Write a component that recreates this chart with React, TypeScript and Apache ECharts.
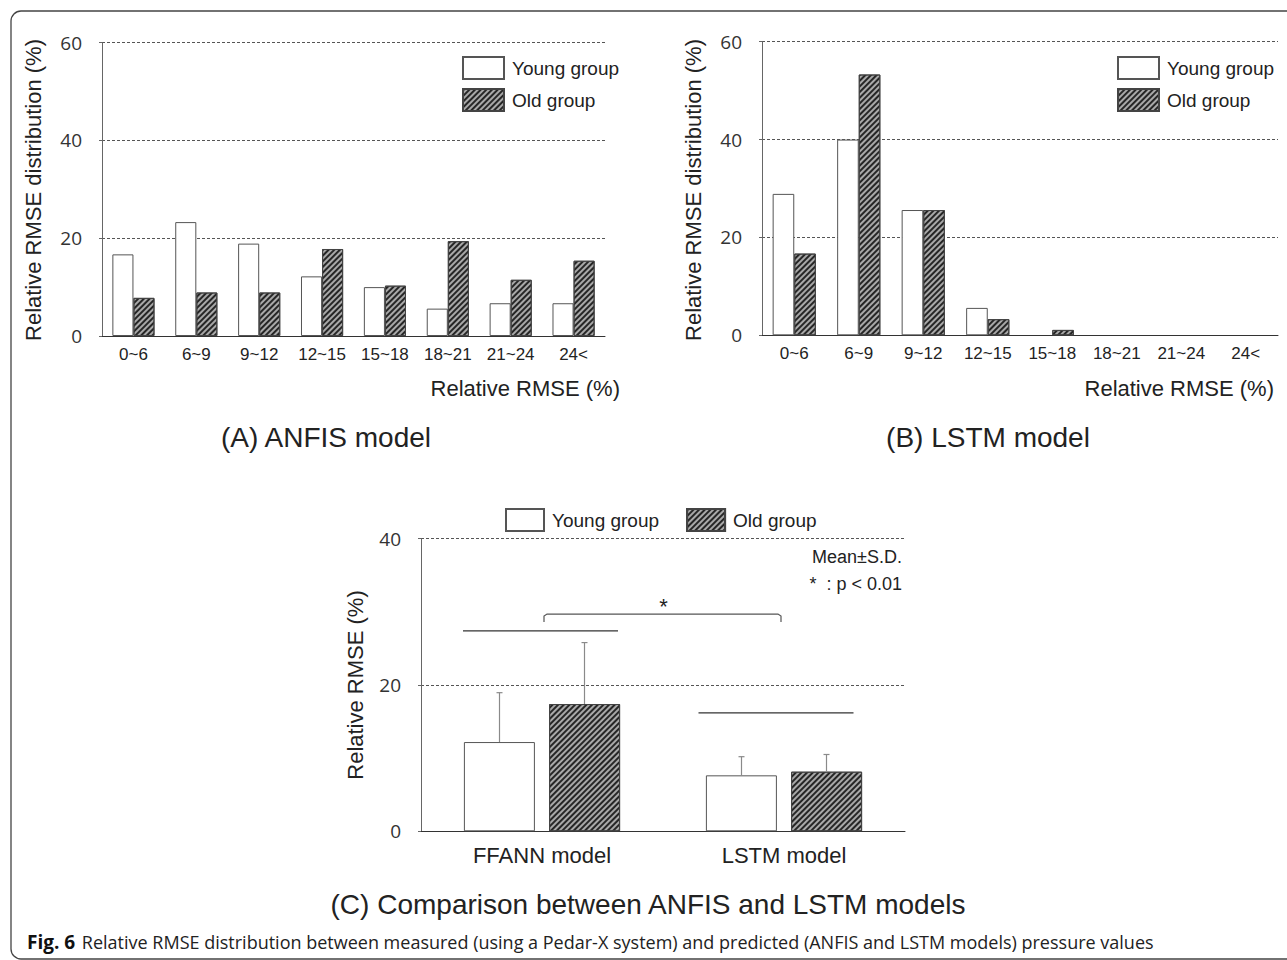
import React, { useEffect, useRef } from "react";
import * as echarts from "echarts";

const categories = ["0~6", "6~9", "9~12", "12~15", "15~18", "18~21", "21~24", "24<"];
const anfisYoung = [16.7, 23.3, 18.9, 12.2, 10.0, 5.6, 6.7, 6.7];
const anfisOld = [7.8, 8.9, 8.9, 17.8, 10.3, 19.4, 11.5, 15.4];
const lstmYoung = [28.9, 40.0, 25.6, 5.6, 0, 0, 0, 0];
const lstmOld = [16.7, 53.3, 25.6, 3.3, 1.1, 0, 0, 0];

const distTicks = [0, 20, 40, 60];
const cmpTicks = [0, 20, 40];

const cmpGroups = ["FFANN model", "LSTM model"];
const cmpYoungMean = [12.2, 7.65];
const cmpYoungSD = [6.75, 2.55];
const cmpOldMean = [17.4, 8.15];
const cmpOldSD = [8.4, 2.35];
// group-wise significance bars (value level) and the between-model bracket
const groupLineLevel = [27.4, 16.2];
const bracketLevel = 29.7;

const seriesNames = ["Young group", "Old group"];

const FONT = "Liberation Sans, Arial, sans-serif";
const TICKFONT = "Open Sans, sans-serif";

const hatch = {
  symbol: "rect",
  symbolSize: 1,
  color: "#262626",
  dashArrayX: [1, 0],
  dashArrayY: [1.5, 1.5],
  rotation: -Math.PI / 4,
};

function yAxisFor(gridIndex: number, ticks: number[], labelMargin: number) {
  return {
    type: "value",
    gridIndex,
    min: ticks[0],
    max: ticks[ticks.length - 1],
    interval: ticks[1] - ticks[0],
    axisLine: { show: true, lineStyle: { color: "#666", width: 1 } },
    axisTick: { show: true, length: 3, lineStyle: { color: "#666" } },
    axisLabel: { fontFamily: TICKFONT, fontSize: 19, color: "#333", margin: labelMargin },
    splitLine: { show: true, lineStyle: { type: [3, 2], color: "#555", width: 1 } },
  };
}

function xAxisFor(gridIndex: number, data: string[], fontSize: number, margin: number) {
  return {
    type: "category",
    gridIndex,
    data,
    axisLine: { show: true, lineStyle: { color: "#333", width: 1 } },
    axisTick: { show: false },
    axisLabel: { fontFamily: FONT, fontSize, color: "#222", margin, interval: 0 },
  };
}

function barSeries(name: string, data: number[], idx: number, old: boolean, extra: any = {}) {
  return {
    type: "bar",
    name,
    data: data.map((v) => (v === 0 ? { value: v, itemStyle: { opacity: 0 } } : v)),
    xAxisIndex: idx,
    yAxisIndex: idx,
    itemStyle: old
      ? { color: "#a8a8a8", borderColor: "#444", borderWidth: 1, decal: hatch }
      : { color: "#ffffff", borderColor: "#555", borderWidth: 1 },
    emphasis: { disabled: true },
    z: 2,
    ...extra,
  };
}

const legendBase = {
  data: seriesNames.map((n) => ({ name: n, icon: "rect" })),
  padding: 0,
  selectedMode: false,
  textStyle: { fontFamily: FONT, fontSize: 19, color: "#222", padding: [0, 0, 0, 3] },
};

export default function App() {
  const ref = useRef<HTMLDivElement>(null);
  useEffect(() => {
    if (!ref.current) return;
    const chart = echarts.init(ref.current, null, { renderer: "svg" });

    const errData: number[][] = [];
    cmpGroups.forEach((_, i) => {
      errData.push([i, cmpYoungMean[i], cmpYoungSD[i], -1]);
      errData.push([i, cmpOldMean[i], cmpOldSD[i], 1]);
    });
    const half = 42.5;

    const option: any = {
      animation: false,
      backgroundColor: "#ffffff",
      grid: [
        { left: 102, top: 42.7, width: 503, height: 293.3 },
        { left: 762, top: 41.7, width: 516, height: 293.6 },
        { left: 421, top: 538.7, width: 484, height: 292.6 },
      ],
      xAxis: [
        xAxisFor(0, categories, 17, 10),
        xAxisFor(1, categories, 17, 10),
        xAxisFor(2, cmpGroups, 22, 13),
      ],
      yAxis: [yAxisFor(0, distTicks, 20), yAxisFor(1, distTicks, 20), yAxisFor(2, cmpTicks, 20)],
      legend: [
        { ...legendBase, orient: "vertical", left: 462, top: 56, itemWidth: 41, itemHeight: 22, itemGap: 8 },
        { ...legendBase, orient: "vertical", left: 1117, top: 56, itemWidth: 41, itemHeight: 22, itemGap: 8 },
        { ...legendBase, orient: "horizontal", left: 505, top: 508, itemWidth: 38, itemHeight: 22, itemGap: 27 },
      ],
      series: [
        barSeries(seriesNames[0], anfisYoung, 0, false, { barGap: "0%", barCategoryGap: "33%" }),
        barSeries(seriesNames[1], anfisOld, 0, true, { barGap: "0%", barCategoryGap: "33%" }),
        barSeries(seriesNames[0], lstmYoung, 1, false, { barGap: "0%", barCategoryGap: "33%" }),
        barSeries(seriesNames[1], lstmOld, 1, true, { barGap: "0%", barCategoryGap: "33%" }),
        barSeries(seriesNames[0], cmpYoungMean, 2, false, { barGap: "20%", barWidth: 71 }),
        barSeries(seriesNames[1], cmpOldMean, 2, true, { barGap: "20%", barWidth: 71 }),
        {
          type: "custom",
          name: "err",
          xAxisIndex: 2,
          yAxisIndex: 2,
          z: 3,
          data: errData,
          encode: { x: 0, y: 1 },
          renderItem: (params: any, api: any) => {
            const c = api.value(0);
            const m = api.value(1);
            const sd = api.value(2);
            const side = api.value(3);
            const b = api.coord([c, m]);
            const t = api.coord([c, m + sd]);
            const x = b[0] + side * half;
            const st = { stroke: "#8a8a8a", lineWidth: 1.2 };
            return {
              type: "group",
              children: [
                { type: "line", shape: { x1: x, y1: b[1], x2: x, y2: t[1] }, style: st },
                { type: "line", shape: { x1: x - 3, y1: t[1], x2: x + 3, y2: t[1] }, style: st },
              ],
            };
          },
        },
        {
          type: "custom",
          name: "sig",
          xAxisIndex: 2,
          yAxisIndex: 2,
          z: 3,
          data: groupLineLevel.map((v, i) => [i, v]),
          encode: { x: 0, y: 1 },
          renderItem: (params: any, api: any) => {
            const c = api.value(0);
            const p = api.coord([c, api.value(1)]);
            const shift = c === 0 ? -1.5 : -8;
            return {
              type: "line",
              shape: { x1: p[0] + shift - 77.5, y1: p[1], x2: p[0] + shift + 77.5, y2: p[1] },
              style: { stroke: "#333", lineWidth: 1.3 },
            };
          },
        },
        {
          type: "custom",
          name: "bracket",
          xAxisIndex: 2,
          yAxisIndex: 2,
          z: 3,
          data: [[0, 1, bracketLevel]],
          encode: { x: 0, y: 2 },
          renderItem: (params: any, api: any) => {
            const a = api.coord([api.value(0), api.value(2)]);
            const b = api.coord([api.value(1), api.value(2)]);
            const x1 = a[0] + 2;
            const x2 = b[0] - 3;
            const y = a[1];
            return {
              type: "group",
              children: [
                {
                  type: "polyline",
                  shape: { points: [[x1, y + 8], [x1, y + 2], [x1 + 3, y], [x2 - 3, y], [x2, y + 2], [x2, y + 8]] },
                  style: { stroke: "#555", lineWidth: 1.2, fill: null },
                },
                {
                  type: "text",
                  x: (x1 + x2) / 2 + 1,
                  y: y - 8,
                  style: { text: "*", fontFamily: FONT, fontSize: 22, fill: "#222", align: "center", verticalAlign: "middle" },
                },
              ],
            };
          },
        },
      ],
      graphic: [
        {
          type: "rect",
          shape: { x: 11, y: 11, width: 1300, height: 948, r: 10 },
          style: { fill: null, stroke: "#444", lineWidth: 1.3 },
          silent: true,
        },
        {
          type: "text", x: 33, y: 190, rotation: Math.PI / 2,
          style: { text: "Relative RMSE distribution (%)", fontFamily: FONT, fontSize: 22, fill: "#222", align: "center", verticalAlign: "middle" },
        },
        {
          type: "text", x: 693, y: 190, rotation: Math.PI / 2,
          style: { text: "Relative RMSE distribution (%)", fontFamily: FONT, fontSize: 22, fill: "#222", align: "center", verticalAlign: "middle" },
        },
        {
          type: "text", x: 355, y: 685, rotation: Math.PI / 2,
          style: { text: "Relative RMSE (%)", fontFamily: FONT, fontSize: 22, fill: "#222", align: "center", verticalAlign: "middle" },
        },
        {
          type: "text", x: 620, y: 388,
          style: { text: "Relative RMSE (%)", fontFamily: FONT, fontSize: 22, fill: "#222", align: "right", verticalAlign: "middle" },
        },
        {
          type: "text", x: 1274, y: 388,
          style: { text: "Relative RMSE (%)", fontFamily: FONT, fontSize: 22, fill: "#222", align: "right", verticalAlign: "middle" },
        },
        {
          type: "text", x: 326, y: 437,
          style: { text: "(A) ANFIS model", fontFamily: FONT, fontSize: 28, fill: "#222", align: "center", verticalAlign: "middle" },
        },
        {
          type: "text", x: 988, y: 437,
          style: { text: "(B) LSTM model", fontFamily: FONT, fontSize: 28, fill: "#222", align: "center", verticalAlign: "middle" },
        },
        {
          type: "text", x: 648, y: 904,
          style: { text: "(C) Comparison between ANFIS and LSTM models", fontFamily: FONT, fontSize: 28, fill: "#222", align: "center", verticalAlign: "middle" },
        },
        {
          type: "text", x: 902, y: 557,
          style: { text: "Mean±S.D.", fontFamily: FONT, fontSize: 18, fill: "#222", align: "right", verticalAlign: "middle" },
        },
        {
          type: "text", x: 902, y: 584,
          style: { text: "*  : p < 0.01", fontFamily: FONT, fontSize: 18, fill: "#222", align: "right", verticalAlign: "middle" },
        },
        {
          type: "text", x: 27, y: 942,
          style: {
            text: "{b|Fig. 6}  {n|Relative RMSE distribution between measured (using a Pedar-X system) and predicted (ANFIS and LSTM models) pressure values}",
            verticalAlign: "middle",
            rich: {
              b: { fontFamily: "Open Sans, sans-serif", fontWeight: "bold", fontSize: 19, fill: "#111", color: "#111" },
              n: { fontFamily: "Open Sans, sans-serif", fontSize: 18, fill: "#222", color: "#222" },
            },
          },
        },
      ],
    };
    chart.setOption(option);
    return () => chart.dispose();
  }, []);
  return (
    <div
      ref={ref}
      style={{ position: "fixed", left: 0, top: 0, width: 1287, height: 960, background: "#fff" }}
    />
  );
}
